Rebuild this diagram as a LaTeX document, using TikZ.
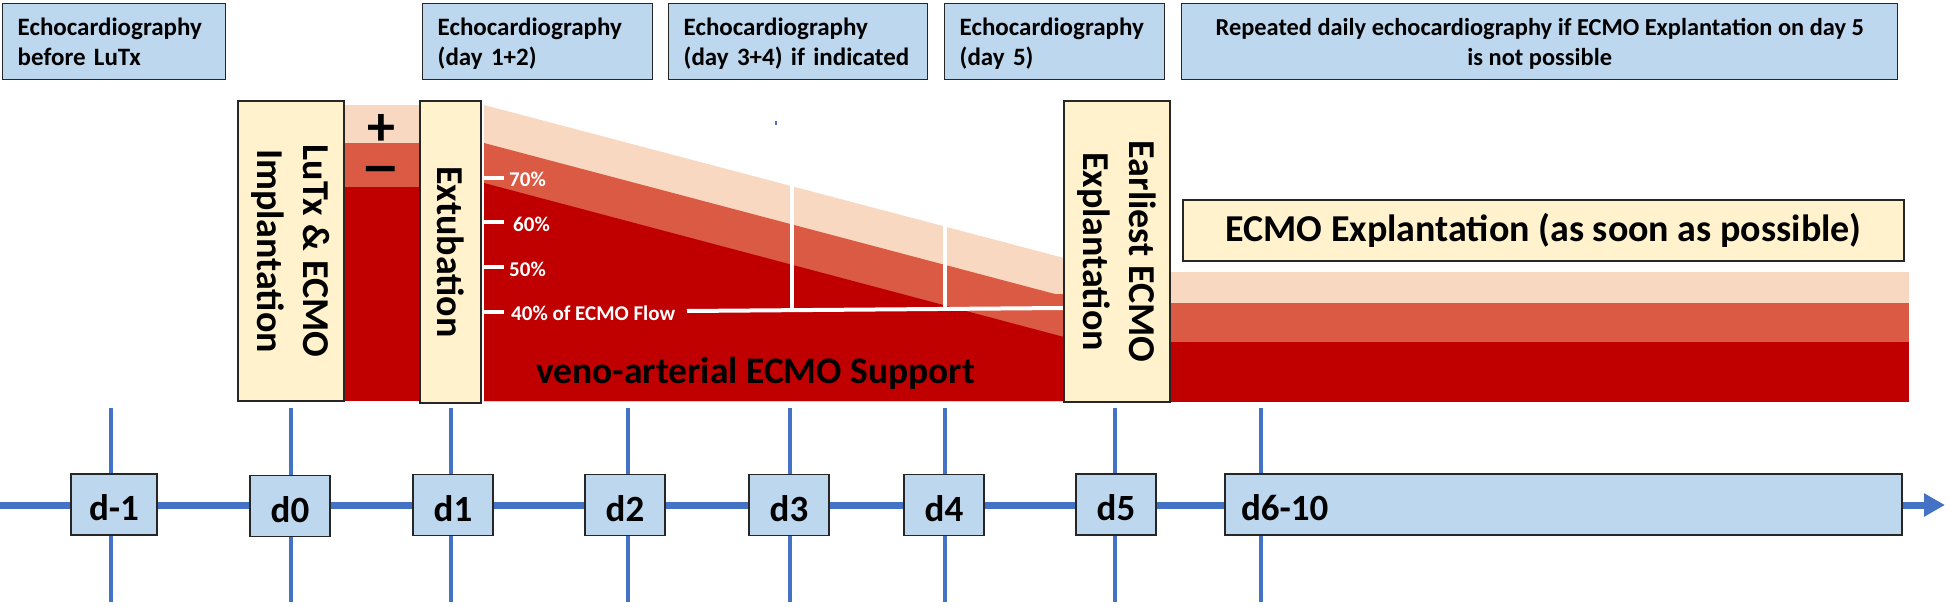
\documentclass[tikz,border=0pt]{standalone}
\usepackage{fontspec}
\setmainfont{Carlito}
\newfontfamily\symfont{DejaVu Sans}
\usetikzlibrary{arrows.meta}
\definecolor{tlblue}{HTML}{4472C4}
\definecolor{boxblue}{HTML}{BDD7EE}
\definecolor{boxyellow}{HTML}{FFF2CC}
\definecolor{ecmodark}{HTML}{C00000}
\definecolor{ecmomid}{HTML}{DA5A44}
\definecolor{ecmolight}{HTML}{F8D8C0}
\definecolor{edgegray}{HTML}{262626}
\newcommand\mytopstrut{\rule{0pt}{24pt}}
\newcommand\mybotstrut{\rule[-6pt]{0pt}{6pt}}
\begin{document}
\begin{tikzpicture}[x=1pt,y=-1pt,
  echobox/.style={draw=edgegray, line width=1.4pt, fill=boxblue, anchor=north west, inner xsep=15pt, inner ysep=0pt, minimum height=76pt, font=\bfseries\fontsize{25}{30}\selectfont, align=left},
  yellowbox/.style={draw=edgegray, line width=1.4pt, fill=boxyellow, font=\bfseries\fontsize{38}{46}\selectfont, align=center, inner sep=0pt},
  vbox/.style={yellowbox, rotate=-90},
  daybox/.style={draw=edgegray, line width=1.4pt, fill=boxblue, minimum height=61pt, font=\bfseries\fontsize{37}{44}\selectfont, text height=32pt, text depth=0pt},
  pct/.style={text=white, font=\bfseries\fontsize{21}{25}\selectfont, anchor=base west, inner sep=0pt},
  whiteline/.style={white, line width=4pt},
  daytick/.style={tlblue, line width=4.5pt},
]
\useasboundingbox (0,0) rectangle (1950,607);

% ECMO flow bands
\fill[ecmolight] (342,105) rectangle (422,401);
\fill[ecmomid] (342,143) rectangle (422,401);
\fill[ecmodark] (342,187) rectangle (422,401);
\fill[ecmolight] (484,105) -- (1064,258) -- (1064,401) -- (484,401) -- cycle;
\fill[ecmomid] (484,143) -- (1055,294) -- (1064,294) -- (1064,401) -- (484,401) -- cycle;
\fill[ecmodark] (484,183) -- (1064,337) -- (1064,401) -- (484,401) -- cycle;
\fill[ecmolight] (1168,272) rectangle (1909,402);
\fill[ecmomid] (1168,303) rectangle (1909,402);
\fill[ecmodark] (1168,342) rectangle (1909,402);

% white scale marks
\draw[whiteline] (484,178) -- (504,178);
\draw[whiteline] (484,222) -- (504,222);
\draw[whiteline] (484,267) -- (504,267);
\draw[whiteline] (484,312) -- (504,312);
\draw[whiteline] (687,311) -- (1063,308);
\draw[whiteline] (792,185) -- (792,310);
\draw[whiteline] (945,226) -- (945,309);

\node[pct] (p70) at (509,186) {70\%};
\node[pct] (p60) at (513,231) {60\%};
\node[pct] (p50) at (509,276) {50\%};
\node[pct] (p40) at (511,320) {40\% of ECMO Flow};

\node[font=\bfseries\fontsize{56}{60}\selectfont, inner sep=0pt, anchor=base, text height=32pt, text depth=0pt] (plus) at (381,145) {+};
\node[font=\symfont\bfseries\fontsize{46}{50}\selectfont, inner sep=0pt, anchor=base, text height=18pt, text depth=0pt] (minus) at (381,183) {−};

\node[font=\bfseries\fontsize{37.5}{44}\selectfont, anchor=base west, inner sep=0pt] (va) at (536,383) {veno-arterial ECMO Support};

% yellow boxes
\node[vbox, minimum width=300pt, minimum height=106pt] (lutx) at (291,251) {LuTx \& ECMO\\Implantation};
\node[vbox, minimum width=302pt, minimum height=61pt] (extub) at (450.5,252) {Extubation};
\node[vbox, minimum width=301pt, minimum height=106pt] (earliest) at (1117,251.5) {Earliest ECMO\\Explantation};
\node[yellowbox, font=\bfseries\fontsize{38}{44}\selectfont, minimum width=721pt, minimum height=61pt] (asap) at (1543.5,230.5) {ECMO Explantation (as soon as possible)};

\draw[tlblue, line width=1.5pt] (776,121) -- (776,125);

% timeline
\coordinate (tlstart) at (0,505);
\coordinate (tlend) at (1945,505);
\foreach \x in {111,291,451,628,790,945,1115,1261}
  \draw[daytick] (\x,408) -- (\x,602);
\draw[tlblue, line width=7pt, -{Triangle[length=21pt,width=22pt]}] (tlstart) -- (tlend);

\node[daybox, minimum width=86pt] (dm1) at (114,504.5) {d-1};
\node[daybox, minimum width=80pt] (d0) at (290,506) {d0};
\node[daybox, minimum width=80pt] (d1) at (453,505) {d1};
\node[daybox, minimum width=80pt] (d2) at (625,505) {d2};
\node[daybox, minimum width=80pt] (d3) at (789,505) {d3};
\node[daybox, minimum width=80pt] (d4) at (944,505) {d4};
\node[daybox, minimum width=80pt] (d5) at (1116,504.5) {d5};
\node[daybox, minimum width=677pt, text width=645pt, inner xsep=16pt, align=left] (d610) at (1563.5,504.5) {d6-10};

% echocardiography boxes
\node[echobox, text width=193pt] (e1) at (2,3) {\mytopstrut Echocardiography\\before LuTx\mybotstrut};
\node[echobox, text width=200pt] (e2) at (422,3) {\mytopstrut Echocardiography\\(day 1+2)\mybotstrut};
\node[echobox, text width=229pt] (e3) at (668,3) {\mytopstrut Echocardiography\\(day 3+4) if indicated\mybotstrut};
\node[echobox, text width=190pt] (e4) at (944,3) {\mytopstrut Echocardiography\\(day 5)\mybotstrut};
\node[echobox, inner xsep=0pt, minimum width=716pt, align=center, font=\bfseries\fontsize{24.4}{30}\selectfont] (e5) at (1181,3) {\mytopstrut Repeated daily echocardiography if ECMO Explantation on day 5\\is not possible\mybotstrut};
\end{tikzpicture}
\end{document}
